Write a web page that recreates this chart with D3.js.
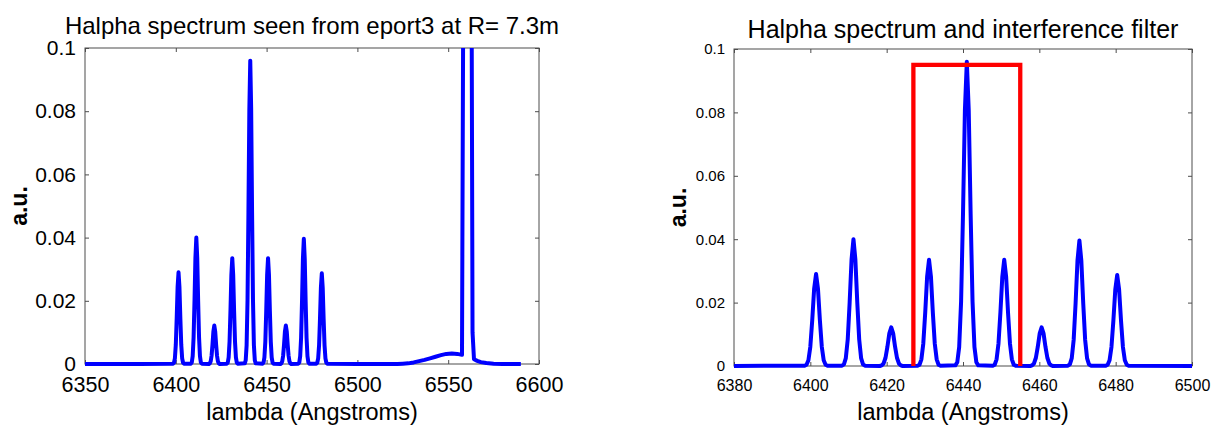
<!DOCTYPE html>
<html>
<head>
<meta charset="utf-8">
<script src="https://cdn.jsdelivr.net/npm/d3@7"></script>
<style>
  html, body { margin: 0; padding: 0; background: #fff; }
  svg { display: block; }
  text { font-family: "Liberation Sans", Arial, Helvetica, sans-serif; fill: #000; }
</style>
</head>
<body>
<svg id="fig" width="1219" height="425"></svg>
<script>
// Synthetic H-alpha spectrum (intensity in a.u. vs wavelength in Angstroms)
const wavelength = [
  6350, 6380,
  6398.5, 6399, 6399.5, 6400, 6400.5, 6401, 6401.5, 6402, 6402.5, 6403, 6403.5, 6404, 6404.5,
  6408.3, 6408.8, 6409.3, 6409.8, 6410.3, 6410.8, 6411.3, 6411.8, 6412.3, 6412.8, 6413.3, 6413.8, 6414.3,
  6418.2, 6418.7, 6419.2, 6419.7, 6420.2, 6420.7, 6421.2, 6421.7, 6422.2, 6422.7, 6423.2, 6423.7, 6424.2,
  6428.1, 6428.6, 6429.1, 6429.6, 6430.1, 6430.6, 6431.1, 6431.6, 6432.1, 6432.6, 6433.1, 6433.6, 6434.1,
  6438.0, 6438.5, 6439.0, 6439.5, 6440.0, 6440.5, 6441.0, 6441.5, 6442.0, 6442.5, 6443.0, 6443.5, 6444.0,
  6447.8, 6448.3, 6448.8, 6449.3, 6449.8, 6450.3, 6450.8, 6451.3, 6451.8, 6452.3, 6452.8, 6453.3, 6453.8,
  6457.6, 6458.1, 6458.6, 6459.1, 6459.6, 6460.1, 6460.6, 6461.1, 6461.6, 6462.1, 6462.6, 6463.1, 6463.6,
  6467.5, 6468.0, 6468.5, 6469.0, 6469.5, 6470.0, 6470.5, 6471.0, 6471.5, 6472.0, 6472.5, 6473.0, 6473.5,
  6477.4, 6477.9, 6478.4, 6478.9, 6479.4, 6479.9, 6480.4, 6480.9, 6481.4, 6481.9, 6482.4, 6482.9, 6483.4,
  6500, 6522,
  6525, 6528, 6531, 6534, 6537, 6540, 6543, 6546, 6549, 6552, 6555, 6557.6,
  6559.4, 6560.7, 6562.0, 6563.4, 6564.2,
  6566, 6568, 6571, 6575, 6580, 6590
];
const intensity = [
  0, 0,
  0.0001, 0.0004, 0.0018, 0.0061, 0.0145, 0.0244, 0.0290, 0.0244, 0.0145, 0.0061, 0.0018, 0.0004, 0.0001,
  0.0001, 0.0005, 0.0025, 0.0084, 0.0200, 0.0336, 0.0400, 0.0336, 0.0200, 0.0084, 0.0025, 0.0005, 0.0001,
  0.0000, 0.0002, 0.0008, 0.0026, 0.0061, 0.0103, 0.0122, 0.0103, 0.0061, 0.0026, 0.0008, 0.0002, 0.0000,
  0.0001, 0.0004, 0.0021, 0.0071, 0.0168, 0.0282, 0.0335, 0.0282, 0.0168, 0.0071, 0.0021, 0.0004, 0.0001,
  0.0002, 0.0012, 0.0060, 0.0203, 0.0480, 0.0807, 0.0960, 0.0807, 0.0480, 0.0203, 0.0060, 0.0012, 0.0002,
  0.0001, 0.0004, 0.0021, 0.0071, 0.0168, 0.0282, 0.0335, 0.0282, 0.0168, 0.0071, 0.0021, 0.0004, 0.0001,
  0.0000, 0.0002, 0.0008, 0.0026, 0.0061, 0.0103, 0.0122, 0.0103, 0.0061, 0.0026, 0.0008, 0.0002, 0.0000,
  0.0001, 0.0005, 0.0025, 0.0083, 0.0198, 0.0333, 0.0396, 0.0333, 0.0198, 0.0083, 0.0025, 0.0005, 0.0001,
  0.0001, 0.0004, 0.0018, 0.0060, 0.0143, 0.0241, 0.0287, 0.0241, 0.0143, 0.0060, 0.0018, 0.0004, 0.0001,
  0, 0,
  0.0001, 0.0002, 0.0005, 0.0009, 0.0013, 0.0018, 0.0023, 0.0028, 0.0032, 0.0033, 0.0032, 0.0029,
  0.3000, 0.4500, 0.3000, 0.0100, 0.0015,
  0.0010, 0.0006, 0.0003, 0.0001, 0.0000, 0.0000
];

// Interference filter transmission window
const filterLambda = [6427, 6427, 6455, 6455];
const filterLevel = [0, 0.095, 0.095, 0];

// Axis ticks
const leftXTicks = [6350, 6400, 6450, 6500, 6550, 6600];
const rightXTicks = [6380, 6400, 6420, 6440, 6460, 6480, 6500];
const yTicks = [0, 0.02, 0.04, 0.06, 0.08, 0.1];
const yTickLabels = ["0", "0.02", "0.04", "0.06", "0.08", "0.1"];

const spectrum = wavelength.map((w, i) => ({ x: w, y: intensity[i] }));
const filter = filterLambda.map((w, i) => ({ x: w, y: filterLevel[i] }));

const svg = d3.select("#fig");
svg.append("rect").attr("width", 1219).attr("height", 425).attr("fill", "#fff");

function panel(cfg) {
  const x = d3.scaleLinear().domain(cfg.xDomain).range([cfg.left, cfg.right]);
  const y = d3.scaleLinear().domain([0, 0.1]).range([cfg.bottom, cfg.top]);
  const g = svg.append("g");
  const axisColor = "#4d4d4d";

  // Frame
  g.append("rect")
    .attr("x", cfg.left).attr("y", cfg.top)
    .attr("width", cfg.right - cfg.left).attr("height", cfg.bottom - cfg.top)
    .attr("fill", "none").attr("stroke", axisColor).attr("stroke-width", 1);

  const fmtY = (d) => yTickLabels[yTicks.indexOf(d)];

  const styleAxis = (sel, fs) => {
    sel.select(".domain").remove();
    sel.selectAll(".tick line").attr("stroke", axisColor);
    sel.selectAll(".tick text").attr("font-size", fs).attr("fill", "#000")
      .style("font-family", '"Liberation Sans", Arial, sans-serif');
  };

  g.append("g").attr("transform", `translate(0,${cfg.bottom})`)
    .call(d3.axisBottom(x).tickValues(cfg.xTicks).tickFormat(d3.format("d"))
      .tickSizeInner(-4).tickSizeOuter(0).tickPadding(cfg.xPad))
    .call(s => styleAxis(s, cfg.xFont));
  g.append("g").attr("transform", `translate(0,${cfg.top})`)
    .call(d3.axisTop(x).tickValues(cfg.xTicks).tickFormat("")
      .tickSizeInner(-4).tickSizeOuter(0))
    .call(s => styleAxis(s, cfg.xFont));
  g.append("g").attr("transform", `translate(${cfg.left},0)`)
    .call(d3.axisLeft(y).tickValues(yTicks).tickFormat(fmtY)
      .tickSizeInner(-4).tickSizeOuter(0).tickPadding(9))
    .call(s => styleAxis(s, cfg.yFont));
  g.append("g").attr("transform", `translate(${cfg.right},0)`)
    .call(d3.axisRight(y).tickValues(yTicks).tickFormat("")
      .tickSizeInner(-4).tickSizeOuter(0))
    .call(s => styleAxis(s, cfg.yFont));

  // Clip region for data lines
  const clipId = cfg.id + "-clip";
  svg.append("defs").append("clipPath").attr("id", clipId)
    .append("rect")
    .attr("x", cfg.left).attr("y", cfg.top)
    .attr("width", cfg.right - cfg.left).attr("height", cfg.bottom - cfg.top + 3);

  const line = d3.line().x(d => x(d.x)).y(d => y(d.y));
  const plot = g.append("g").attr("clip-path", `url(#${clipId})`);
  plot.append("path").datum(spectrum)
    .attr("d", line).attr("fill", "none")
    .attr("stroke", "#0000ff").attr("stroke-width", 4)
    .attr("stroke-linejoin", "round");
  if (cfg.showFilter) {
    plot.append("path").datum(filter)
      .attr("d", line).attr("fill", "none")
      .attr("stroke", "#ff0000").attr("stroke-width", 4.3)
      .attr("stroke-linejoin", "miter");
  }

  // Titles and axis labels
  const cx = (cfg.left + cfg.right) / 2;
  g.append("text").attr("x", cx).attr("y", cfg.titleY)
    .attr("text-anchor", "middle").attr("font-size", cfg.titleFont)
    .text(cfg.title);
  g.append("text").attr("x", cx).attr("y", 420)
    .attr("text-anchor", "middle").attr("font-size", 23.5)
    .text("lambda (Angstroms)");
  g.append("text")
    .attr("transform", `translate(${cfg.yLabelX},${(cfg.top + cfg.bottom) / 2}) rotate(-90)`)
    .attr("text-anchor", "middle").attr("font-size", 23).attr("font-weight", "bold")
    .text("a.u.");
}

panel({
  id: "left", xDomain: [6350, 6600], xTicks: leftXTicks,
  left: 85, right: 539, top: 48, bottom: 364,
  xFont: 21.5, yFont: 21, xPad: 13,
  title: "Halpha spectrum seen from eport3 at R= 7.3m", titleY: 34, titleFont: 24,
  yLabelX: 27, showFilter: false
});

panel({
  id: "right", xDomain: [6380, 6500], xTicks: rightXTicks,
  left: 734, right: 1192, top: 49, bottom: 366,
  xFont: 16, yFont: 15, xPad: 14,
  title: "Halpha spectrum and interference filter", titleY: 38, titleFont: 25,
  yLabelX: 686, showFilter: true
});
</script>
</body>
</html>
